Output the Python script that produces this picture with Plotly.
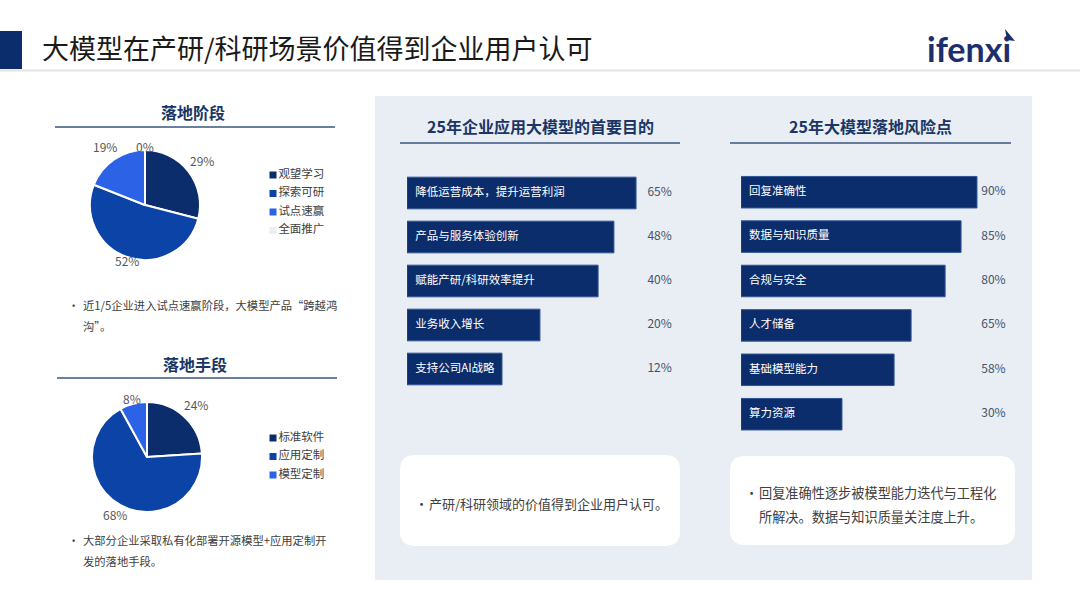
import math
import plotly.graph_objects as go

W, H = 1080, 607
FONT = "Noto Sans CJK SC"

# ---------------- data ----------------
title_text = "大模型在产研/科研场景价值得到企业用户认可"

stage_labels = ["观望学习", "探索可研", "试点速赢", "全面推广"]
stage_values = [29, 52, 19, 0]
stage_colors = ["#0B2D6B", "#0B43A6", "#2C62E6", "#EDEEF0"]

means_labels = ["标准软件", "应用定制", "模型定制"]
means_values = [24, 68, 8]
means_colors = ["#0B2D6B", "#0B43A6", "#2C62E6"]

purpose_labels = ["降低运营成本，提升运营利润", "产品与服务体验创新", "赋能产研/科研效率提升",
                  "业务收入增长", "支持公司AI战略"]
purpose_values = ["65%", "48%", "40%", "20%", "12%"]
# bar lengths as drawn in the picture (share of the panel width, 0-100)
purpose_bar_len = [83.9, 75.8, 70.0, 48.7, 34.8]

risk_labels = ["回复准确性", "数据与知识质量", "合规与安全", "人才储备", "基础模型能力", "算力资源"]
risk_values = ["90%", "85%", "80%", "65%", "58%", "30%"]
risk_bar_len = [87.4, 81.5, 75.6, 63.0, 56.7, 37.4]

note_stage = ["近1/5企业进入试点速赢阶段，大模型产品“跨越鸿", "沟”。"]
note_means = ["大部分企业采取私有化部署开源模型+应用定制开", "发的落地手段。"]
note_purpose = ["产研/科研领域的价值得到企业用户认可。"]
note_risk = ["回复准确性逐步被模型能力迭代与工程化", "所解决。数据与知识质量关注度上升。"]

# ---------------- helpers ----------------
def px(x):
    return x / W


def py(y):
    return 1 - y / H


NAVY = "#0B2D6B"
HEAD = "#1B3664"
BODY = "#404040"

fig = go.Figure()

# ---- bar charts ----
fig.add_trace(go.Bar(x=purpose_bar_len, y=purpose_labels, orientation="h", width=0.72,
                     marker=dict(color=NAVY, line=dict(color="#2F5597", width=1)),
                     xaxis="x", yaxis="y", showlegend=False, hoverinfo="skip"))
fig.add_trace(go.Scatter(x=[3] * len(purpose_labels), y=purpose_labels, mode="text",
                         text=purpose_labels, textposition="middle right",
                         textfont=dict(color="white", size=11.5, family=FONT),
                         xaxis="x", yaxis="y", showlegend=False, hoverinfo="skip"))
fig.add_trace(go.Scatter(x=[97] * len(purpose_labels), y=purpose_labels, mode="text",
                         text=purpose_values, textposition="middle left",
                         textfont=dict(color="#44546A", size=12, family=FONT),
                         xaxis="x", yaxis="y", showlegend=False, hoverinfo="skip"))

fig.add_trace(go.Bar(x=risk_bar_len, y=risk_labels, orientation="h", width=0.71,
                     marker=dict(color=NAVY, line=dict(color="#2F5597", width=1)),
                     xaxis="x2", yaxis="y2", showlegend=False, hoverinfo="skip"))
fig.add_trace(go.Scatter(x=[3] * len(risk_labels), y=risk_labels, mode="text",
                         text=risk_labels, textposition="middle right",
                         textfont=dict(color="white", size=11.5, family=FONT),
                         xaxis="x2", yaxis="y2", showlegend=False, hoverinfo="skip"))
fig.add_trace(go.Scatter(x=[98] * len(risk_labels), y=risk_labels, mode="text",
                         text=risk_values, textposition="middle left",
                         textfont=dict(color="#44546A", size=12, family=FONT),
                         xaxis="x2", yaxis="y2", showlegend=False, hoverinfo="skip"))

# ---- legends (drawn as marker+text scatter on hidden axes) ----
fig.add_trace(go.Scatter(x=[0] * len(stage_labels), y=list(range(len(stage_labels))),
                         mode="markers+text", text=stage_labels, textposition="middle right",
                         marker=dict(symbol="square", size=7, color=stage_colors),
                         textfont=dict(color=BODY, size=11.5, family=FONT), cliponaxis=False,
                         xaxis="x3", yaxis="y3", showlegend=False, hoverinfo="skip"))
fig.add_trace(go.Scatter(x=[0] * len(means_labels), y=list(range(len(means_labels))),
                         mode="markers+text", text=means_labels, textposition="middle right",
                         marker=dict(symbol="square", size=7, color=means_colors),
                         textfont=dict(color=BODY, size=11.5, family=FONT), cliponaxis=False,
                         xaxis="x4", yaxis="y4", showlegend=False, hoverinfo="skip"))

# ---- pies ----
PIE_R = 55
pie1_c = (145, 205)
pie2_c = (147, 457)


def pie_domain(c, r):
    return dict(x=[px(c[0] - r), px(c[0] + r)], y=[py(c[1] + r), py(c[1] - r)])


fig.add_trace(go.Pie(labels=stage_labels, values=stage_values, sort=False,
                     direction="clockwise", rotation=0, textinfo="none",
                     marker=dict(colors=stage_colors, line=dict(color="white", width=2)),
                     domain=pie_domain(pie1_c, PIE_R), showlegend=False, hoverinfo="label+percent"))
fig.add_trace(go.Pie(labels=means_labels, values=means_values, sort=False,
                     direction="clockwise", rotation=0, textinfo="none",
                     marker=dict(colors=means_colors, line=dict(color="white", width=2)),
                     domain=pie_domain(pie2_c, PIE_R), showlegend=False, hoverinfo="label+percent"))

annotations = []


def pie_labels(values, c, factors):
    tot = sum(values)
    cum = 0
    for v, f in zip(values, factors):
        mid = (cum + v / 2) / tot
        cum += v
        th = 2 * math.pi * mid
        x = c[0] + f * PIE_R * math.sin(th)
        y = c[1] - f * PIE_R * math.cos(th)
        annotations.append(dict(x=px(x), y=py(y), xref="paper", yref="paper",
                                text=f"{v}%", showarrow=False,
                                xanchor="center", yanchor="middle",
                                font=dict(size=12, color="#595959", family=FONT)))


pie_labels(stage_values, pie1_c, [1.31, 1.07, 1.29, 1.07])
pie_labels(means_values, pie2_c, [1.30, 1.19, 1.10])


def text(x, y, s, size=12, color=BODY, anchor="left", bold=False, family=FONT):
    annotations.append(dict(x=px(x), y=py(y), xref="paper", yref="paper",
                            text=f"<b>{s}</b>" if bold else s, showarrow=False,
                            xanchor=anchor, yanchor="middle",
                            font=dict(size=size, color=color, family=family)))


# header
text(40, 48, title_text, size=27, color="#1A1A1A")
text(969, 49, "ifenxi", size=34, color="#1C2E6C", anchor="center", bold=True, family="Lato")

# section titles
text(193, 112, "落地阶段", size=16, color=HEAD, anchor="center", bold=True)
text(195, 364, "落地手段", size=16, color=HEAD, anchor="center", bold=True)
text(540, 126, "25年企业应用大模型的首要目的", size=16, color=HEAD, anchor="center", bold=True)
text(870, 126, "25年大模型落地风险点", size=16, color=HEAD, anchor="center", bold=True)


def bullet(xb, xt, y0, lines, size, gap):
    text(xb, y0, "•", size=size)
    for i, ln in enumerate(lines):
        text(xt, y0 + i * gap, ln, size=size)


bullet(66, 81, 305, note_stage, 11.3, 21)
bullet(66, 81, 540, note_means, 11.3, 21)
bullet(413, 427, 503, note_purpose, 13, 24)
bullet(743, 757, 492, note_risk, 13.2, 24)

# ---------------- shapes ----------------
shapes = []


def rect(x0, y0, x1, y1, fill, layer="below"):
    shapes.append(dict(type="rect", xref="paper", yref="paper", x0=px(x0), x1=px(x1),
                       y0=py(y1), y1=py(y0), fillcolor=fill, line=dict(width=0), layer=layer))


def hline(x0, x1, y, color, width):
    shapes.append(dict(type="line", xref="paper", yref="paper", x0=px(x0), x1=px(x1),
                       y0=py(y), y1=py(y), line=dict(color=color, width=width), layer="below"))


def rounded(x0, y0, x1, y1, r, fill):
    pts = [("M", x0 + r, y0), ("L", x1 - r, y0), ("Q", x1, y0, x1, y0 + r),
           ("L", x1, y1 - r), ("Q", x1, y1, x1 - r, y1), ("L", x0 + r, y1),
           ("Q", x0, y1, x0, y1 - r), ("L", x0, y0 + r), ("Q", x0, y0, x0 + r, y0)]
    path = ""
    for p in pts:
        cmd = p[0]
        coords = p[1:]
        seg = []
        for i in range(0, len(coords), 2):
            seg.append(f"{px(coords[i]):.5f},{py(coords[i + 1]):.5f}")
        path += cmd + " ".join(seg) + " "
    path += "Z"
    shapes.append(dict(type="path", xref="paper", yref="paper", path=path,
                       fillcolor=fill, line=dict(width=0), layer="below"))


rect(0, 31, 22, 69, "#0B2D6B")
hline(0, W, 70.5, "#E4E4E4", 2)
rect(375, 96, 1032, 580, "#E9EDF4")
hline(55, 335, 127, "#3A5482", 1.5)
hline(57, 337, 378, "#3A5482", 1.5)
hline(400, 680, 143, "#3A5482", 1.5)
hline(730, 1011, 143, "#3A5482", 1.5)
rounded(400, 455, 680, 546, 15, "white")
rounded(730, 456, 1015, 545, 15, "white")

# logo accent
shapes.append(dict(type="path", xref="paper", yref="paper",
                   path=f"M{px(1005)},{py(29)} L{px(1015)},{py(41)} L{px(1007)},{py(40)} Z",
                   fillcolor="#1C2E6C", line=dict(width=0)))

hidden = dict(visible=False, showgrid=False, zeroline=False, fixedrange=True)

fig.update_layout(
    width=W, height=H, margin=dict(l=0, r=0, t=0, b=0),
    paper_bgcolor="white", plot_bgcolor="rgba(0,0,0,0)",
    font=dict(family=FONT),
    shapes=shapes, annotations=annotations,
    xaxis=dict(domain=[px(407), px(680)], range=[0, 100], anchor="y", **hidden),
    yaxis=dict(domain=[py(391), py(171)], type="category", autorange="reversed", anchor="x", **hidden),
    xaxis2=dict(domain=[px(741), px(1011)], range=[0, 100], anchor="y2", **hidden),
    yaxis2=dict(domain=[py(436.4), py(170)], type="category", autorange="reversed", anchor="x2", **hidden),
    xaxis3=dict(domain=[px(273), px(345)], range=[0, 1], anchor="y3", **hidden),
    yaxis3=dict(domain=[py(239.75), py(165.75)], range=[3.5, -0.5], anchor="x3", **hidden),
    xaxis4=dict(domain=[px(273), px(345)], range=[0, 1], anchor="y4", **hidden),
    yaxis4=dict(domain=[py(484.25), py(428.75)], range=[2.5, -0.5], anchor="x4", **hidden),
)

fig.write_html("out.html", config={"displayModeBar": False},
               post_script="document.body.style.margin='0px';")
